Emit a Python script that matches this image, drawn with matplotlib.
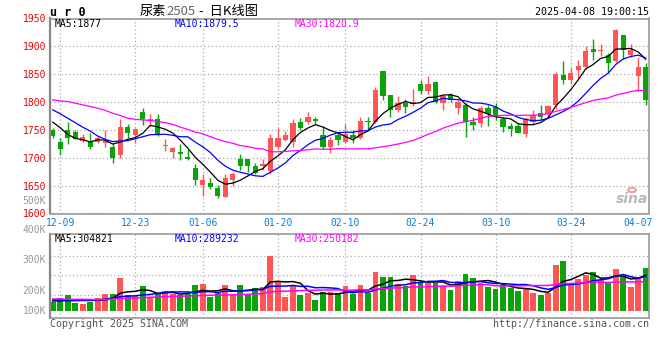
import numpy as np
import pandas as pd
import matplotlib
matplotlib.use('Agg')
import matplotlib.pyplot as plt

W, H = 660, 360
MONO = 'DejaVu Sans Mono'
CJK = ['Noto Sans CJK SC', 'DejaVu Sans']
RED = '#ff5555'
GREEN = '#08a408'

# trading days shown (2024-12-06 .. 2025-04-08, exchange holidays removed)
days = pd.bdate_range('2024-12-06', '2025-04-08')
holidays = pd.to_datetime(['2025-01-01', '2025-01-28', '2025-01-29', '2025-01-30',
                           '2025-01-31', '2025-02-03', '2025-02-04', '2025-04-04'])
days = days[~days.isin(holidays)]
tick_dates = ['12-09', '12-23', '01-06', '01-20', '02-10', '02-24', '03-10', '03-24', '04-07']

open_ = [1749, 1729, 1749, 1747, 1730, 1729, 1729, 1727, 1720, 1705,
         1756, 1741, 1782, 1766, 1770, 1721, 1710, 1711, 1701, 1681,
         1651, 1655, 1646, 1630, 1660, 1697, 1697, 1686, 1685, 1677,
         1720, 1732, 1728, 1764, 1764, 1770, 1740, 1719, 1741, 1729,
         1741, 1735, 1766, 1765, 1855, 1813, 1785, 1799, 1796, 1832,
         1820, 1836, 1798, 1813, 1790, 1795, 1765, 1762, 1789, 1792,
         1769, 1757, 1757, 1743, 1765, 1780, 1779, 1795, 1848, 1839,
         1857, 1863, 1896, 1892, 1885, 1874, 1920, 1884, 1846, 1863]
high = [1753, 1735, 1764, 1750, 1742, 1744, 1739, 1749, 1724, 1769,
        1761, 1754, 1789, 1779, 1779, 1733, 1720, 1724, 1716, 1689,
        1670, 1664, 1651, 1670, 1675, 1707, 1698, 1691, 1697, 1742,
        1753, 1748, 1770, 1771, 1783, 1774, 1757, 1738, 1745, 1760,
        1750, 1774, 1773, 1827, 1855, 1813, 1811, 1805, 1823, 1839,
        1846, 1836, 1813, 1816, 1804, 1798, 1774, 1793, 1795, 1798,
        1774, 1762, 1762, 1774, 1786, 1795, 1795, 1854, 1873, 1862,
        1875, 1900, 1914, 1905, 1888, 1932, 1921, 1905, 1880, 1870]
low = [1735, 1705, 1725, 1733, 1729, 1715, 1727, 1720, 1691, 1699,
       1735, 1726, 1758, 1757, 1739, 1712, 1699, 1696, 1696, 1651,
       1632, 1644, 1628, 1630, 1649, 1678, 1674, 1670, 1678, 1671,
       1715, 1730, 1720, 1749, 1761, 1760, 1715, 1709, 1723, 1727,
       1727, 1733, 1749, 1763, 1804, 1774, 1783, 1781, 1793, 1814,
       1814, 1799, 1786, 1801, 1778, 1737, 1750, 1756, 1757, 1768,
       1747, 1739, 1744, 1738, 1760, 1768, 1774, 1787, 1833, 1833,
       1842, 1860, 1875, 1882, 1852, 1872, 1878, 1880, 1819, 1795]
close = [1739, 1716, 1735, 1734, 1738, 1719, 1736, 1731, 1699, 1756,
         1744, 1751, 1770, 1770, 1742, 1723, 1717, 1706, 1698, 1660,
         1660, 1648, 1632, 1663, 1670, 1686, 1686, 1673, 1688, 1735,
         1736, 1740, 1763, 1754, 1774, 1766, 1719, 1732, 1732, 1742,
         1736, 1766, 1764, 1821, 1810, 1785, 1799, 1791, 1801, 1819,
         1832, 1801, 1810, 1804, 1801, 1765, 1759, 1789, 1778, 1777,
         1755, 1751, 1745, 1769, 1777, 1774, 1793, 1850, 1839, 1853,
         1864, 1891, 1890, 1894, 1870, 1930, 1893, 1894, 1863, 1804]

# daily volume, thousands of lots
vol_k = [78, 107, 134, 67, 59, 78, 109, 143, 143, 277,
         134, 129, 210, 107, 154, 168, 143, 134, 143, 218,
         227, 115, 149, 218, 143, 218, 143, 193, 202, 465,
         241, 120, 207, 134, 154, 92, 162, 162, 149, 210,
         140, 218, 154, 328, 286, 286, 227, 210, 302, 241,
         233, 233, 210, 176, 252, 311, 280, 233, 204, 185,
         218, 191, 168, 182, 149, 134, 154, 386, 420, 224,
         269, 302, 325, 260, 233, 355, 294, 204, 288, 364]

# moving-average values before the window fills
ma5_head = [1764, 1754, 1742, 1735]
ma10_head = [1786, 1779, 1771, 1763, 1755, 1748, 1739, 1733, 1729]
ma30_head = [1804, 1802, 1801, 1798, 1795, 1792, 1789, 1785, 1780, 1776,
             1771, 1769, 1768, 1767, 1765, 1763, 1760, 1755, 1751, 1746,
             1743, 1738, 1733, 1729, 1726, 1722, 1720, 1717, 1716]
vma5_head = [84, 86, 87, 87]
vma10_head = [94, 92, 92, 90, 90, 90, 92, 100, 110]
vma30_head = [101, 101, 98, 98, 98, 97, 95, 95, 101, 104,
              106, 109, 112, 115, 118, 120, 123, 124, 126, 129,
              130, 132, 133, 134, 135, 137, 140, 143, 146]

# legend values as printed on the chart
price_ma_text = ['MA5:1877', 'MA10:1879.5', 'MA30:1820.9']
vol_ma_text = ['MA5:304821', 'MA10:289232', 'MA30:250182']
vol_labels = ['500K', '400K', '300K', '200K', '100K']

open_, high, low, close = map(np.array, (open_, high, low, close))
vol = np.array(vol_k, dtype=float)
x = np.arange(len(days))


def moving(values, n, head):
    m = pd.Series(values, dtype=float).rolling(n).mean().to_numpy()
    m[:n - 1] = head
    return m


ma5, ma10, ma30 = moving(close, 5, ma5_head), moving(close, 10, ma10_head), moving(close, 30, ma30_head)
vma5, vma10, vma30 = moving(vol, 5, vma5_head), moving(vol, 10, vma10_head), moving(vol, 30, vma30_head)

labels = list(days.strftime('%m-%d'))
tick_pos = [labels.index(d) for d in tick_dates]


def box(l, t, r, b):
    return [l / W, 1 - b / H, (r - l) / W, (b - t) / H]


def ftext(px, py, s, **kw):
    kw.setdefault('fontfamily', MONO)
    kw.setdefault('fontsize', 7)
    kw.setdefault('va', 'center')
    return fig.text(px / W, 1 - py / H, s, **kw)


fig = plt.figure(figsize=(W / 100, H / 100), dpi=100)
ax = fig.add_axes(box(50, 18.5, 649, 213.5))
axv = fig.add_axes(box(50, 234, 649, 318))

grid_kw = dict(color='#aaaaaa', lw=0.9, ls=(0, (1, 2)), zorder=0)
for a in (ax, axv):
    a.set_xlim(-0.36, len(x) - 0.56)
    for s in a.spines.values():
        s.set_color('#999999')
        s.set_linewidth(1.2)
    a.spines['left'].set_linewidth(1.6)
    a.spines['left'].set_color('#888888')
    for p in tick_pos[:-1]:
        a.axvline(p, **grid_kw)

# price panel
colors = np.where(close >= open_, RED, GREEN)
ax.vlines(x, low, high, colors=colors, lw=1, zorder=2)
ax.bar(x, np.maximum(np.abs(close - open_), 1.6), bottom=np.minimum(open_, close),
       width=0.7, color=colors, lw=0, zorder=2)
ax.plot(x, ma5, color='black', lw=0.9, zorder=3)
ax.plot(x, ma10, color='#0000ff', lw=0.9, zorder=3)
ax.plot(x, ma30, color='#ff00ff', lw=0.9, zorder=3)
ax.set_ylim(1600, 1950)
ax.set_yticks(range(1600, 1951, 50))
ax.yaxis.grid(True, **{k: v for k, v in grid_kw.items() if k != 'zorder'})
ax.set_axisbelow(True)
ax.tick_params(axis='y', length=0, pad=2.9, labelcolor='#e60000', labelsize=7)
for t in ax.get_yticklabels():
    t.set_fontfamily(MONO)
ax.set_xticks(tick_pos)
ax.set_xticklabels(tick_dates, fontfamily=MONO)
ax.tick_params(axis='x', length=0, pad=3.3, labelcolor='#0b7fd4', labelsize=7)

# volume panel
axv.bar(x, vol, width=0.78, color=colors, lw=0, zorder=2)
axv.plot(x, vma5, color='black', lw=1.1, zorder=3)
axv.plot(x, vma10, color='#0000ff', lw=1.1, zorder=3)
axv.plot(x, vma30, color='#ff00ff', lw=1.1, zorder=3)
axv.set_ylim(-59, 647)
for lvl in (134, 300, 464):
    axv.axhline(lvl, **grid_kw)
axv.set_xticks([])
axv.set_yticks([])

# header
ftext(50, 12, 'u r 0', fontweight='bold', fontsize=8.5)
t1 = ftext(140, 11.5, '尿素', fontfamily=CJK, fontsize=9.5)
t2 = ax.annotate('2505', xy=(1, 0.5), xycoords=t1, va='center', fontfamily=CJK,
                 fontsize=9.5, color='#666666', annotation_clip=False)
ax.annotate(' -  日K线图', xy=(1, 0.5), xycoords=t2, va='center', fontfamily=CJK,
            fontsize=9.5, color='black', annotation_clip=False)
ftext(649, 12, '2025-04-08 19:00:15', ha='right', fontsize=7.2)

for px, s, c in zip([55, 175, 295], price_ma_text, ['black', '#0000ff', '#ff00ff']):
    ftext(px, 24, s, color=c)
for px, s, c in zip([55, 175, 295], vol_ma_text, ['black', '#0000ff', '#ff00ff']):
    ftext(px, 239, s, color=c)

for py, s in zip([201, 230, 260, 291, 311], vol_labels):
    ftext(46, py, s, ha='right', color='#999999')

ftext(50, 324, 'Copyright 2025 SINA.COM', color='#555555', fontsize=7.2)
ftext(649, 324, 'http://finance.sina.com.cn', ha='right', color='#555555', fontsize=7.2)

# watermark
ftext(648, 199, 'sina', ha='right', fontfamily='DejaVu Sans', fontsize=10,
      fontstyle='italic', fontweight='bold', color='#b8b8b8')
fig.add_artist(plt.Circle((632 / W, 1 - 190 / H), 0.006, transform=fig.transFigure,
                          fill=False, ec='#f2a0a0', lw=1.5))

fig.savefig('out.png', dpi=100)
